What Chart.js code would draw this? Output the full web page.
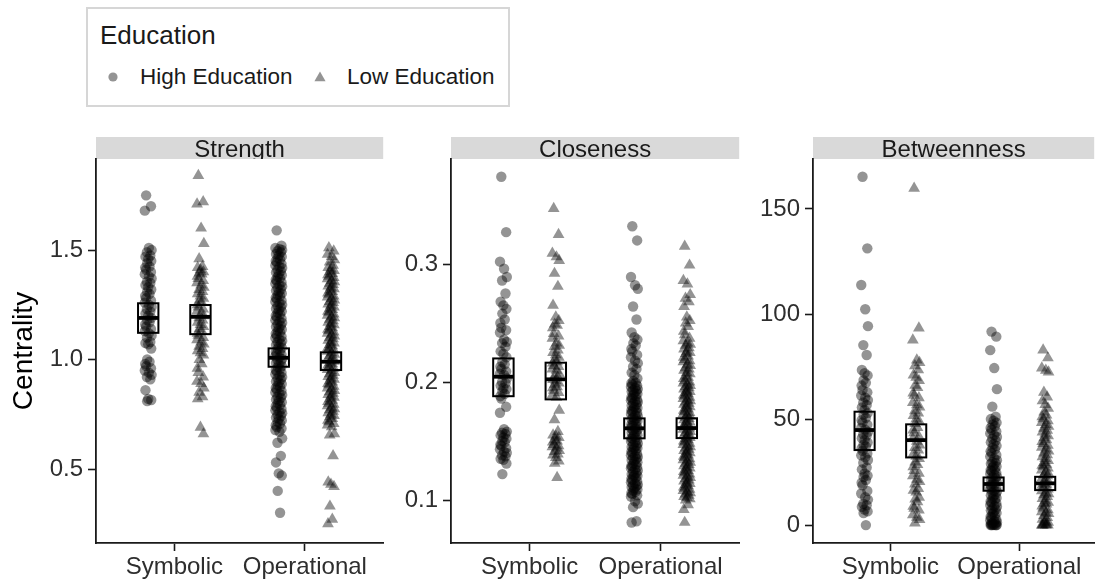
<!DOCTYPE html>
<html>
<head>
<meta charset="utf-8">
<script src="https://cdn.jsdelivr.net/npm/chart.js@4.4.1/dist/chart.umd.min.js"></script>
<style>
	body {
		margin: 0;
		width: 1101px;
		height: 584px;
		background: #ffffff;
		position: relative;
		overflow: hidden;
		font-family: "Liberation Sans", Arial, sans-serif;
		color: #1a1a1a;
	}
	canvas {
		position: absolute;
	}
	#legend {
		position: absolute;
		left: 86px;
		top: 7px;
		width: 424px;
		height: 100px;
		box-sizing: border-box;
		border: 2px solid #d6d6d6;
	}
	#legend div, #legend svg {
		position: absolute;
		white-space: nowrap;
	}
	.legend-title {
		font-size: 26px;
		line-height: 30px;
	}
	.legend-label {
		font-size: 22.5px;
		line-height: 26px;
	}
</style>
</head>
<body>
<div id="legend">
	<div class="legend-title" style="left: 12px; top: 11px;">Education</div>
	<svg width="16" height="16" style="left: 17px; top: 60px;">
		<circle cx="8" cy="8" r="4.6" fill="rgba(0,0,0,0.42)"></circle>
	</svg>
	<div class="legend-label" style="left: 52px; top: 55px;">High Education</div>
	<svg width="16" height="16" style="left: 224px; top: 60px;">
		<polygon points="8,2.5 13.6,12.2 2.4,12.2" fill="rgba(0,0,0,0.42)"></polygon>
	</svg>
	<div class="legend-label" style="left: 259px; top: 55px;">Low Education</div>
</div>
<script>
	const categories = ["Symbolic", "Operational"];
	const groups = ["High Education", "Low Education"];

	// crossbar order: Symbolic/High, Symbolic/Low, Operational/High, Operational/Low
	const strengthTicks = [0.5, 1.0, 1.5];
	const strengthSymbolicHigh = [1.75, 1.70, 1.68, 1.51, 1.50, 1.49, 1.475, 1.47, 1.46, 1.45, 1.44, 1.425, 1.42, 1.41, 1.40, 1.39, 1.38, 1.37, 1.355, 1.35, 1.34, 1.33, 1.32, 1.31, 1.30, 1.29, 1.28, 1.27, 1.26, 1.25, 1.24, 1.23, 1.22, 1.21, 1.20, 1.19, 1.18, 1.17, 1.16, 1.15, 1.14, 1.13, 1.12, 1.11, 1.10, 1.08, 1.075, 1.07, 1.05, 1.00, 0.99, 0.98, 0.97, 0.96, 0.95, 0.94, 0.93, 0.92, 0.91, 0.86, 0.82, 0.815, 0.81];
	const strengthSymbolicLow = [1.84, 1.72, 1.71, 1.60, 1.53, 1.46, 1.425, 1.42, 1.41, 1.40, 1.395, 1.39, 1.38, 1.37, 1.36, 1.35, 1.34, 1.33, 1.32, 1.31, 1.30, 1.29, 1.28, 1.27, 1.26, 1.25, 1.24, 1.23, 1.22, 1.21, 1.20, 1.19, 1.18, 1.17, 1.16, 1.15, 1.14, 1.13, 1.12, 1.11, 1.10, 1.09, 1.08, 1.07, 1.06, 1.05, 1.04, 1.03, 1.02, 1.00, 0.98, 0.96, 0.94, 0.92, 0.90, 0.89, 0.87, 0.85, 0.83, 0.82, 0.69, 0.66];
	const strengthOperationalHigh = [1.59, 1.52, 1.51, 1.505, 1.50, 1.495, 1.49, 1.482, 1.476, 1.47, 1.463, 1.457, 1.45, 1.444, 1.437, 1.43, 1.424, 1.418, 1.41, 1.404, 1.398, 1.39, 1.385, 1.378, 1.372, 1.365, 1.36, 1.353, 1.347, 1.34, 1.334, 1.328, 1.32, 1.315, 1.308, 1.302, 1.295, 1.29, 1.283, 1.277, 1.27, 1.264, 1.258, 1.25, 1.245, 1.238, 1.232, 1.225, 1.22, 1.213, 1.207, 1.20, 1.194, 1.188, 1.18, 1.175, 1.168, 1.162, 1.155, 1.15, 1.143, 1.137, 1.13, 1.124, 1.118, 1.11, 1.105, 1.098, 1.092, 1.085, 1.08, 1.073, 1.067, 1.06, 1.054, 1.048, 1.04, 1.035, 1.028, 1.022, 1.015, 1.01, 1.003, 0.997, 0.99, 0.984, 0.978, 0.97, 0.965, 0.958, 0.952, 0.945, 0.94, 0.933, 0.927, 0.92, 0.914, 0.908, 0.90, 0.895, 0.888, 0.882, 0.875, 0.87, 0.863, 0.857, 0.85, 0.844, 0.838, 0.83, 0.825, 0.818, 0.812, 0.805, 0.80, 0.793, 0.787, 0.78, 0.774, 0.768, 0.76, 0.755, 0.748, 0.742, 0.735, 0.73, 0.722, 0.715, 0.707, 0.70, 0.692, 0.685, 0.678, 0.67, 0.64, 0.62, 0.56, 0.53, 0.48, 0.47, 0.40, 0.30];
	const strengthOperationalLow = [1.51, 1.495, 1.48, 1.47, 1.455, 1.445, 1.43, 1.42, 1.413, 1.406, 1.40, 1.393, 1.387, 1.38, 1.374, 1.368, 1.36, 1.355, 1.348, 1.342, 1.335, 1.33, 1.323, 1.317, 1.31, 1.304, 1.298, 1.29, 1.285, 1.278, 1.272, 1.265, 1.26, 1.253, 1.247, 1.24, 1.234, 1.228, 1.22, 1.215, 1.208, 1.202, 1.195, 1.19, 1.183, 1.177, 1.17, 1.164, 1.158, 1.15, 1.145, 1.138, 1.132, 1.125, 1.12, 1.113, 1.107, 1.10, 1.094, 1.088, 1.08, 1.075, 1.068, 1.062, 1.055, 1.05, 1.043, 1.037, 1.03, 1.024, 1.018, 1.01, 1.005, 0.998, 0.992, 0.985, 0.98, 0.973, 0.967, 0.96, 0.954, 0.948, 0.94, 0.935, 0.928, 0.922, 0.915, 0.91, 0.903, 0.897, 0.89, 0.884, 0.878, 0.87, 0.865, 0.858, 0.852, 0.845, 0.84, 0.833, 0.827, 0.82, 0.814, 0.808, 0.80, 0.795, 0.788, 0.782, 0.775, 0.77, 0.763, 0.757, 0.75, 0.744, 0.738, 0.73, 0.722, 0.715, 0.707, 0.70, 0.692, 0.66, 0.655, 0.56, 0.44, 0.43, 0.42, 0.33, 0.27, 0.25];
	const strengthMeans = [1.19, 1.195, 1.008, 0.99];
	const strengthLower = [1.122, 1.116, 0.967, 0.952];
	const strengthUpper = [1.257, 1.249, 1.051, 1.033];

	const closenessTicks = [0.1, 0.2, 0.3];
	const closenessSymbolicHigh = [0.374, 0.327, 0.302, 0.296, 0.289, 0.286, 0.275, 0.268, 0.265, 0.262, 0.258, 0.253, 0.250, 0.246, 0.244, 0.242, 0.236, 0.234, 0.233, 0.230, 0.226, 0.224, 0.221, 0.217, 0.215, 0.213, 0.211, 0.209, 0.207, 0.206, 0.203, 0.200, 0.199, 0.197, 0.195, 0.194, 0.192, 0.190, 0.188, 0.186, 0.179, 0.174, 0.160, 0.158, 0.157, 0.156, 0.155, 0.153, 0.152, 0.150, 0.149, 0.147, 0.146, 0.144, 0.143, 0.141, 0.140, 0.138, 0.137, 0.135, 0.134, 0.131, 0.122];
	const closenessSymbolicLow = [0.347, 0.325, 0.309, 0.306, 0.303, 0.292, 0.281, 0.265, 0.255, 0.252, 0.249, 0.248, 0.246, 0.241, 0.239, 0.237, 0.233, 0.231, 0.230, 0.227, 0.225, 0.223, 0.221, 0.219, 0.217, 0.216, 0.214, 0.213, 0.211, 0.210, 0.207, 0.205, 0.204, 0.202, 0.201, 0.199, 0.198, 0.196, 0.195, 0.193, 0.191, 0.189, 0.187, 0.176, 0.168, 0.158, 0.155, 0.154, 0.153, 0.151, 0.150, 0.149, 0.147, 0.146, 0.145, 0.144, 0.142, 0.141, 0.139, 0.138, 0.136, 0.133, 0.131, 0.119];
	const closenessOperationalHigh = [0.332, 0.320, 0.289, 0.282, 0.279, 0.264, 0.253, 0.242, 0.238, 0.236, 0.233, 0.231, 0.228, 0.226, 0.223, 0.221, 0.218, 0.216, 0.213, 0.211, 0.208, 0.206, 0.203, 0.201, 0.1995, 0.199, 0.198, 0.197, 0.196, 0.195, 0.194, 0.193, 0.1925, 0.192, 0.191, 0.190, 0.189, 0.188, 0.187, 0.186, 0.185, 0.1845, 0.184, 0.183, 0.182, 0.181, 0.180, 0.179, 0.178, 0.177, 0.1765, 0.176, 0.175, 0.174, 0.173, 0.172, 0.171, 0.170, 0.169, 0.1685, 0.168, 0.167, 0.166, 0.165, 0.164, 0.163, 0.162, 0.161, 0.1605, 0.160, 0.159, 0.158, 0.157, 0.156, 0.155, 0.154, 0.153, 0.1525, 0.152, 0.151, 0.150, 0.149, 0.148, 0.147, 0.146, 0.145, 0.1445, 0.144, 0.143, 0.142, 0.141, 0.140, 0.139, 0.138, 0.137, 0.1365, 0.136, 0.135, 0.134, 0.133, 0.132, 0.131, 0.130, 0.129, 0.1285, 0.128, 0.127, 0.126, 0.125, 0.124, 0.123, 0.122, 0.121, 0.1205, 0.120, 0.119, 0.118, 0.117, 0.116, 0.115, 0.114, 0.113, 0.1125, 0.112, 0.111, 0.110, 0.109, 0.108, 0.107, 0.106, 0.105, 0.104, 0.103, 0.099, 0.097, 0.094, 0.082, 0.081];
	const closenessOperationalLow = [0.315, 0.299, 0.286, 0.283, 0.274, 0.271, 0.268, 0.264, 0.255, 0.252, 0.250, 0.247, 0.243, 0.240, 0.237, 0.235, 0.233, 0.232, 0.231, 0.229, 0.228, 0.226, 0.225, 0.224, 0.222, 0.221, 0.219, 0.218, 0.217, 0.215, 0.214, 0.212, 0.211, 0.210, 0.208, 0.207, 0.205, 0.204, 0.203, 0.201, 0.200, 0.199, 0.198, 0.197, 0.196, 0.195, 0.194, 0.193, 0.192, 0.191, 0.190, 0.189, 0.188, 0.187, 0.186, 0.185, 0.184, 0.183, 0.182, 0.181, 0.180, 0.179, 0.178, 0.177, 0.176, 0.175, 0.174, 0.173, 0.172, 0.171, 0.170, 0.169, 0.168, 0.167, 0.166, 0.165, 0.164, 0.163, 0.162, 0.161, 0.160, 0.159, 0.158, 0.157, 0.156, 0.155, 0.154, 0.153, 0.152, 0.151, 0.150, 0.149, 0.148, 0.147, 0.146, 0.145, 0.144, 0.143, 0.142, 0.141, 0.140, 0.139, 0.138, 0.137, 0.136, 0.135, 0.134, 0.133, 0.132, 0.131, 0.130, 0.129, 0.128, 0.127, 0.126, 0.125, 0.124, 0.123, 0.122, 0.121, 0.120, 0.119, 0.118, 0.117, 0.116, 0.115, 0.114, 0.113, 0.112, 0.111, 0.110, 0.109, 0.108, 0.107, 0.106, 0.105, 0.104, 0.103, 0.102, 0.101, 0.100, 0.096, 0.092, 0.081];
	const closenessMeans = [0.2045, 0.2023, 0.1608, 0.161];
	const closenessLower = [0.188, 0.1853, 0.1523, 0.1525];
	const closenessUpper = [0.220, 0.2164, 0.1692, 0.1693];

	const betweennessTicks = [0, 50, 100, 150];
	const betweennessSymbolicHigh = [165.3, 131.3, 113.9, 102.4, 94.4, 85.4, 80.7, 73.6, 72.1, 71.0, 68.8, 67.5, 66.2, 64.1, 63.0, 61.5, 60.5, 59.3, 58.2, 57.0, 55.8, 54.6, 53.1, 52.3, 50.9, 49.8, 48.7, 47.6, 46.1, 45.3, 44.2, 43.1, 42.5, 41.2, 40.3, 39.2, 38.1, 37.3, 36.4, 35.2, 34.0, 33.1, 32.2, 30.9, 29.6, 27.3, 26.4, 24.5, 23.5, 22.8, 21.4, 20.1, 18.9, 16.2, 15.0, 13.2, 12.1, 10.1, 9.4, 8.7, 7.4, 6.5, 5.7, 0.0];
	const betweennessSymbolicLow = [159.8, 93.5, 87.8, 78.3, 77.1, 75.6, 73.6, 71.2, 70.1, 68.5, 66.3, 65.2, 62.6, 61.5, 60.4, 58.1, 57.0, 56.0, 54.2, 53.1, 51.9, 50.3, 49.2, 48.1, 46.2, 45.1, 43.8, 42.0, 41.0, 39.7, 37.9, 36.8, 35.6, 33.8, 32.6, 31.5, 29.9, 28.7, 27.6, 25.8, 24.6, 23.4, 21.7, 20.6, 19.5, 17.3, 16.5, 15.6, 13.2, 12.3, 11.0, 8.9, 8.0, 7.1, 4.8, 3.7, 2.6, 1.0];
	const betweennessOperationalHigh = [91.8, 89.4, 83.0, 74.5, 64.5, 56.2, 51.4, 50.3, 49.5, 48.6, 47.8, 46.9, 46.1, 45.2, 44.4, 43.5, 42.7, 41.8, 41.0, 40.1, 39.3, 38.4, 37.6, 36.7, 35.9, 35.0, 34.2, 33.3, 32.5, 31.6, 30.8, 29.9, 29.5, 29.1, 28.2, 27.8, 27.4, 26.5, 26.1, 25.7, 24.8, 24.4, 24.0, 23.1, 22.7, 22.3, 21.4, 21.0, 20.6, 19.7, 19.3, 18.9, 18.0, 17.6, 17.2, 16.3, 15.9, 15.5, 14.6, 14.2, 13.8, 12.9, 12.5, 12.1, 11.2, 10.8, 10.4, 9.5, 9.1, 8.7, 7.8, 7.4, 7.0, 6.1, 5.7, 5.3, 4.4, 4.0, 3.6, 2.7, 2.3, 1.9, 1.4, 1.0, 0.8, 0.6, 0.3, 0.0, 0.0, 0.0, 0.0, 0.0, 0.0];
	const betweennessOperationalLow = [83.0, 79.3, 74.5, 73.4, 72.6, 63.0, 60.7, 58.9, 57.2, 55.4, 53.6, 52.2, 51.3, 50.4, 49.5, 48.6, 47.7, 46.8, 45.9, 45.0, 44.1, 43.2, 42.3, 41.4, 40.5, 39.6, 38.7, 37.8, 36.9, 36.0, 35.1, 34.2, 33.3, 32.4, 31.5, 30.6, 29.7, 28.8, 28.3, 27.9, 27.0, 26.1, 25.2, 24.3, 23.8, 23.4, 22.5, 21.6, 20.7, 19.8, 19.3, 18.9, 18.0, 17.1, 16.2, 15.3, 14.8, 14.4, 13.5, 12.6, 11.7, 10.8, 10.3, 9.9, 9.0, 8.1, 7.2, 6.3, 5.8, 5.4, 4.5, 3.6, 2.7, 1.8, 1.3, 0.9, 0.4, 0.0, 0.0, 0.0, 0.0, 0.0];
	const betweennessMeans = [45.1, 40.3, 19.5, 19.8];
	const betweennessLower = [35.6, 32.1, 16.3, 16.6];
	const betweennessUpper = [53.8, 47.8, 22.6, 22.9];

	const fontFamily = "'Liberation Sans', Arial, sans-serif";
	const pointColour = "rgba(0, 0, 0, 0.42)";
	const axisColour = "#1a1a1a";
	const tickColour = "#2e2e2e";
	// horizontal spread of the strip points, cycled by index
	const jitterOffsets = [-0.016, 0.021, -0.026, 0.005, 0.026, -0.010, 0.016, -0.021, 0.0, 0.023, -0.008, 0.010, -0.023];
	const dodge = 0.2;
	const crossbarHalfWidth = 0.078;

	Chart.defaults.font.family = fontFamily;

	function jitter(values, centre) {
		return values.map((value, i) => ({
			x: centre + jitterOffsets[i % jitterOffsets.length],
			y: value
		}));
	}

	const stripPlugin = {
		id: "strip",
		beforeDraw(chart, args, options) {
			const { ctx, chartArea } = chart;
			const top = chartArea.top - 22;
			const width = chartArea.right - chartArea.left;
			ctx.save();
			ctx.fillStyle = "#d9d9d9";
			ctx.fillRect(chartArea.left, top, width, 22);
			ctx.beginPath();
			ctx.rect(chartArea.left, top, width, 22);
			ctx.clip();
			ctx.fillStyle = "#1a1a1a";
			ctx.font = "24px " + fontFamily;
			ctx.textAlign = "center";
			ctx.textBaseline = "alphabetic";
			ctx.fillText(options.text, chartArea.left + width / 2, top + 20);
			ctx.restore();
		}
	};

	const crossbarPlugin = {
		id: "crossbar",
		afterDatasetsDraw(chart, args, options) {
			const { ctx } = chart;
			const x = chart.scales.x;
			const y = chart.scales.y;
			const positions = [1 - dodge, 1 + dodge, 2 - dodge, 2 + dodge];
			ctx.save();
			ctx.strokeStyle = "#000000";
			positions.forEach((position, i) => {
				const left = x.getPixelForValue(position - crossbarHalfWidth);
				const right = x.getPixelForValue(position + crossbarHalfWidth);
				const top = y.getPixelForValue(options.upper[i]);
				const bottom = y.getPixelForValue(options.lower[i]);
				const middle = y.getPixelForValue(options.means[i]);
				ctx.lineWidth = 2;
				ctx.strokeRect(left, top, right - left, bottom - top);
				ctx.lineWidth = 3.8;
				ctx.beginPath();
				ctx.moveTo(left, middle);
				ctx.lineTo(right, middle);
				ctx.stroke();
			});
			ctx.restore();
		}
	};

	function createPanel(panel) {
		const canvas = document.createElement("canvas");
		canvas.width = panel.width;
		canvas.height = 454;
		canvas.style.left = panel.left + "px";
		canvas.style.top = "130px";
		document.body.appendChild(canvas);
		const context = canvas.getContext("2d");
		if (context === null) {
			throw new Error("Failed to create 2D context");
		}
		const datasets = [
			{
				label: groups[0],
				data: jitter(panel.symbolicHigh, 1 - dodge).concat(jitter(panel.operationalHigh, 2 - dodge)),
				pointStyle: "circle",
				pointRadius: 5.2,
				backgroundColor: pointColour,
				borderWidth: 0
			},
			{
				label: groups[1],
				data: jitter(panel.symbolicLow, 1 + dodge).concat(jitter(panel.operationalLow, 2 + dodge)),
				pointStyle: "triangle",
				pointRadius: 6.8,
				backgroundColor: pointColour,
				borderWidth: 0
			}
		];
		const options = {
			type: "scatter",
			data: {
				datasets: datasets
			},
			options: {
				responsive: false,
				animation: false,
				devicePixelRatio: 1,
				events: [],
				layout: {
					padding: {
						top: 29,
						right: panel.padRight,
						left: 0,
						bottom: 0
					}
				},
				scales: {
					x: {
						type: "linear",
						min: 0.4,
						max: panel.xMax,
						afterBuildTicks: axis => {
							axis.ticks = [1, 2].map(v => ({ value: v }));
						},
						afterFit: axis => {
							axis.height = 41;
						},
						ticks: {
							callback: value => categories[value - 1],
							font: { size: 24 },
							color: tickColour,
							padding: 2,
							maxRotation: 0,
							autoSkip: false
						},
						grid: {
							drawOnChartArea: false,
							tickLength: 8,
							tickColor: axisColour,
							tickWidth: 1.6
						},
						border: {
							color: axisColour,
							width: 1.8
						}
					},
					y: {
						type: "linear",
						min: panel.min,
						max: panel.max,
						afterBuildTicks: axis => {
							axis.ticks = panel.ticks.map(v => ({ value: v }));
						},
						afterFit: axis => {
							axis.width = panel.axisWidth;
						},
						ticks: {
							callback: value => value.toFixed(panel.digits),
							font: { size: 24 },
							color: tickColour,
							padding: 5
						},
						grid: {
							drawOnChartArea: false,
							tickLength: 8,
							tickColor: axisColour,
							tickWidth: 1.6
						},
						border: {
							color: axisColour,
							width: 1.8
						},
						title: {
							display: panel.showTitle,
							text: "Centrality",
							font: { size: 28 },
							color: "#000000",
							padding: { top: 7, bottom: 0 }
						}
					}
				},
				plugins: {
					legend: { display: false },
					tooltip: { enabled: false },
					strip: { text: panel.title },
					crossbar: {
						means: panel.means,
						lower: panel.lower,
						upper: panel.upper
					}
				}
			},
			plugins: [stripPlugin, crossbarPlugin]
		};
		return new Chart(context, options);
	}

	const panels = [
		{
			title: "Strength", left: 0, width: 390, axisWidth: 96, padRight: 3, xMax: 2.6,
			min: 0.162, max: 1.916, ticks: strengthTicks, digits: 1, showTitle: true,
			symbolicHigh: strengthSymbolicHigh, symbolicLow: strengthSymbolicLow,
			operationalHigh: strengthOperationalHigh, operationalLow: strengthOperationalLow,
			means: strengthMeans, lower: strengthLower, upper: strengthUpper
		},
		{
			title: "Closeness", left: 390, width: 356, axisWidth: 61, padRight: 3, xMax: 2.6,
			min: 0.0636, max: 0.389, ticks: closenessTicks, digits: 1, showTitle: false,
			symbolicHigh: closenessSymbolicHigh, symbolicLow: closenessSymbolicLow,
			operationalHigh: closenessOperationalHigh, operationalLow: closenessOperationalLow,
			means: closenessMeans, lower: closenessLower, upper: closenessUpper
		},
		{
			title: "Betweenness", left: 750, width: 351, axisWidth: 63, padRight: 0, xMax: 2.58,
			min: -8.5, max: 173.7, ticks: betweennessTicks, digits: 0, showTitle: false,
			symbolicHigh: betweennessSymbolicHigh, symbolicLow: betweennessSymbolicLow,
			operationalHigh: betweennessOperationalHigh, operationalLow: betweennessOperationalLow,
			means: betweennessMeans, lower: betweennessLower, upper: betweennessUpper
		}
	];

	panels.forEach(createPanel);
</script>
</body>
</html>
